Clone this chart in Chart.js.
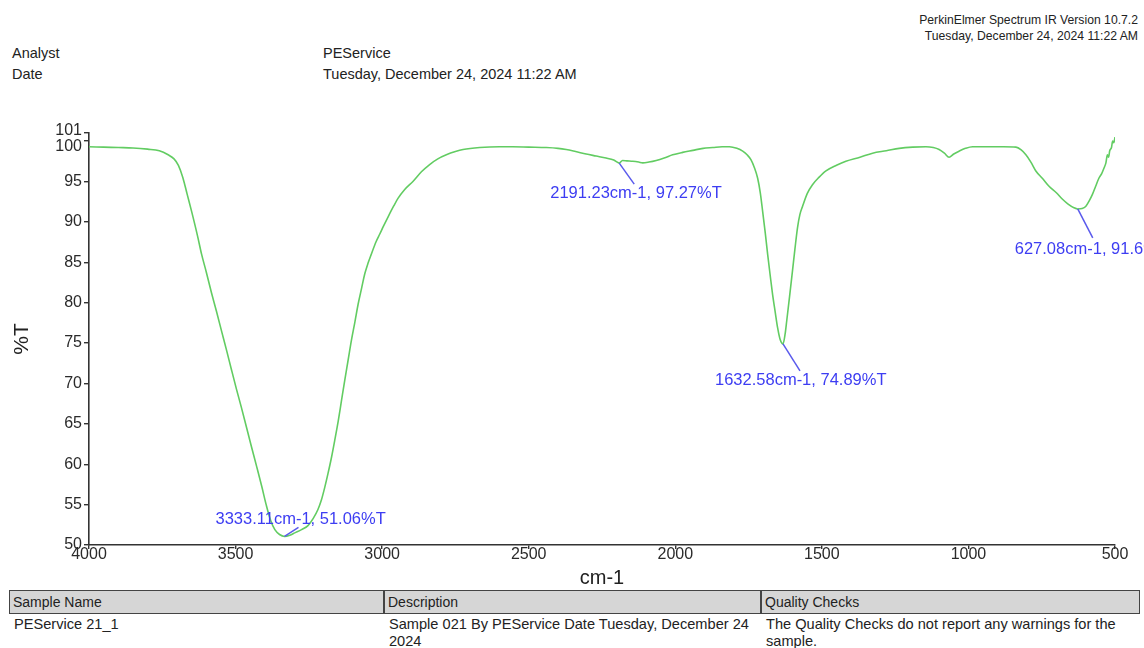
<!DOCTYPE html>
<html>
<head>
<meta charset="utf-8">
<script src="https://cdn.jsdelivr.net/npm/chart.js@4.4.1/dist/chart.umd.min.js"></script>
<style>
  html, body { margin: 0; padding: 0; background: #fff; }
  body { width: 1144px; height: 648px; position: relative; overflow: hidden;
         font-family: "Liberation Sans", Arial, sans-serif; color: #222; }
  #wrap { position: absolute; left: 0; top: 0; width: 1144px; height: 590px; }
  .t { position: absolute; white-space: nowrap; line-height: 1; }
  .hdr { font-size: 14.5px; }
  .ver { font-size: 12.2px; right: 6px; text-align: right; }
  .cell { position: absolute; top: 590px; height: 24px; background: #d6d6d6;
          border: 1.5px solid #444; box-sizing: border-box; font-size: 14px;
          line-height: 22px; padding-left: 3px; color: #222; }
  .row { position: absolute; top: 616px; font-size: 14.6px; line-height: 17px; color: #222; }
</style>
</head>
<body>
<div class="t ver" style="top:14px;">PerkinElmer Spectrum IR Version 10.7.2</div>
<div class="t ver" style="top:30px;">Tuesday, December 24, 2024 11:22 AM</div>
<div class="t hdr" style="left:12px; top:46px;">Analyst</div>
<div class="t hdr" style="left:12px; top:67px;">Date</div>
<div class="t hdr" style="left:323px; top:46px;">PEService</div>
<div class="t hdr" style="left:323px; top:67px;">Tuesday, December 24, 2024 11:22 AM</div>

<div id="wrap"><canvas id="c" width="1144" height="590"></canvas></div>

<div class="cell" style="left:9px; width:375px;">Sample Name</div>
<div class="cell" style="left:384px; width:377px;">Description</div>
<div class="cell" style="left:761px; width:379px;">Quality Checks</div>
<div class="row" style="left:14px;">PEService 21_1</div>
<div class="row" style="left:389px;">Sample 021 By PEService Date Tuesday, December 24<br>2024</div>
<div class="row" style="left:766px;">The Quality Checks do not report any warnings for the<br>sample.</div>

<script>
// Spectrum: wavenumber (cm-1) and transmittance (%T)
const wavenumbers = [
  4000, 3950, 3900, 3850, 3800, 3760, 3730, 3710, 3695, 3680, 3665, 3650, 3630, 3616, 3600,
  3582, 3565, 3548, 3530, 3514, 3497, 3480, 3463, 3446, 3428, 3411, 3395, 3380, 3366, 3350,
  3333.11, 3315, 3298, 3275, 3253, 3235, 3219, 3207, 3196, 3185, 3173, 3162, 3150, 3139, 3128,
  3116, 3105, 3093, 3082, 3070, 3059, 3048, 3037, 3020, 3008, 2995, 2980, 2960, 2946, 2923,
  2895, 2866, 2838, 2810, 2781, 2750, 2724, 2667, 2600, 2554, 2500, 2440, 2400, 2372, 2340,
  2304, 2270, 2236, 2210, 2191.23, 2180, 2165, 2145, 2125, 2111, 2090, 2065, 2035, 2009, 1975,
  1940, 1905, 1872, 1840, 1815, 1790, 1770, 1755, 1742, 1730, 1719, 1710, 1702, 1693, 1685,
  1676, 1668, 1659, 1651, 1642, 1632.58, 1625, 1620, 1610, 1600, 1592, 1583, 1575, 1566, 1550,
  1532, 1510, 1486, 1450, 1418, 1370, 1327, 1280, 1236, 1190, 1145, 1120, 1100, 1082, 1066,
  1050, 1032, 1010, 986, 950, 918, 880, 838, 820, 804, 787, 770, 748, 725, 700,
  679, 660, 640, 627.08, 612, 600, 588, 577, 566, 555, 545, 537, 531, 526, 522,
  518, 512, 508, 504, 500
];
const transmittance = [
  99.3, 99.25, 99.2, 99.15, 99.0, 98.8, 98.3, 97.8, 97.0, 95.5, 93.4, 91.3, 88.3, 86.0, 83.8,
  81.2, 78.9, 76.5, 74.0, 71.7, 69.3, 67.0, 64.6, 62.2, 59.7, 57.3, 54.9, 53.0, 51.9, 51.3,
  51.06, 51.2, 51.5, 51.9, 52.4, 53.3, 54.4, 55.6, 57.1, 58.8, 60.8, 62.9, 65.3, 67.8, 70.3,
  72.9, 75.3, 77.6, 79.8, 81.8, 83.6, 84.9, 86.0, 87.6, 88.5, 89.5, 90.6, 92.0, 92.9, 94.0,
  95.0, 96.2, 97.1, 97.8, 98.3, 98.7, 98.95, 99.2, 99.3, 99.3, 99.25, 99.2, 99.1, 98.95, 98.7,
  98.4, 98.15, 97.9, 97.65, 97.27, 97.6, 97.55, 97.5, 97.4, 97.3, 97.4, 97.6, 97.95, 98.3, 98.6,
  98.85, 99.1, 99.2, 99.3, 99.3, 99.1, 98.75, 98.3, 97.7, 96.7, 95.4, 93.6, 91.3, 88.6, 86.0,
  83.3, 81.0, 78.8, 76.9, 75.4, 74.89, 76.2, 77.7, 80.8, 84.0, 86.6, 89.3, 90.9, 91.9, 93.5,
  94.6, 95.5, 96.3, 97.0, 97.5, 98.0, 98.5, 98.8, 99.1, 99.25, 99.3, 99.2, 98.95, 98.5, 98.0,
  98.4, 98.75, 99.1, 99.3, 99.3, 99.3, 99.3, 99.25, 98.9, 98.3, 97.4, 96.3, 95.4, 94.4, 93.6,
  92.8, 92.2, 91.75, 91.6, 91.65, 91.9, 92.6, 93.4, 94.4, 95.4, 96.0, 96.7, 97.3, 98.3, 98.0,
  98.8, 99.2, 100.0, 99.8, 100.5
];

// Labelled peaks
const peakWavenumbers = [3333.11, 2191.23, 1632.58, 627.08];
const peakTransmittance = [51.06, 97.27, 74.89, 91.6];

// Axis ticks
const xTickValues = [4000, 3500, 3000, 2500, 2000, 1500, 1000, 500];
const yTickValues = [50, 55, 60, 65, 70, 75, 80, 85, 90, 95, 100, 101];

const FONT = '"Liberation Sans", Arial, sans-serif';
const AXIS = '#333';

// leader-line end and label anchor, relative to each peak
const peakLabelStyle = [
  { lx: 14, ly: -9, tx: -69, ty: -17 },
  { lx: 15, ly: 21, tx: -69, ty: 30 },
  { lx: 17, ly: 27, tx: -68, ty: 37 },
  { lx: 15, ly: 29, tx: -63, ty: 41 }
];

const peakLabels = {
  id: 'peakLabels',
  afterDatasetsDraw(chart) {
    const { ctx, scales: { x, y } } = chart;
    ctx.save();
    ctx.font = '16.5px ' + FONT;
    ctx.textBaseline = 'middle';
    ctx.textAlign = 'left';
    peakWavenumbers.forEach((wn, i) => {
      const px = x.getPixelForValue(wn);
      const py = y.getPixelForValue(peakTransmittance[i]);
      const s = peakLabelStyle[i];
      ctx.strokeStyle = '#5a5aec';
      ctx.lineWidth = 1.5;
      ctx.beginPath();
      ctx.moveTo(px, py);
      ctx.lineTo(px + s.lx, py + s.ly);
      ctx.stroke();
      ctx.fillStyle = '#3d3df2';
      ctx.fillText(wn.toFixed(2) + 'cm-1, ' + peakTransmittance[i] + '%T', px + s.tx, py + s.ty);
    });
    ctx.restore();
  }
};

new Chart(document.getElementById('c'), {
  type: 'line',
  data: {
    datasets: [{
      data: wavenumbers.map((w, i) => ({ x: w, y: transmittance[i] })),
      borderColor: '#62cc62',
      borderWidth: 1.6,
      pointRadius: 0,
      cubicInterpolationMode: 'monotone',
      fill: false
    }]
  },
  options: {
    responsive: false,
    animation: false,
    devicePixelRatio: 1,
    layout: { padding: { left: 10, top: 133, right: 29, bottom: 0 } },
    plugins: { legend: { display: false }, tooltip: { enabled: false } },
    scales: {
      x: {
        type: 'linear',
        reverse: true,
        min: 500,
        max: 4000,
        afterBuildTicks: (s) => { s.ticks = xTickValues.map(v => ({ value: v })); },
        afterFit: (s) => { s.height = 45; },
        border: { display: true, color: AXIS, width: 1.6 },
        grid: { display: true, drawOnChartArea: false, color: AXIS, tickLength: 4, lineWidth: 1.4 },
        ticks: { autoSkip: false, maxRotation: 0, padding: -4, color: '#2a2a2a',
                 callback: (v) => String(v),
                 font: { family: FONT, size: 16 } },
        title: { display: true, text: 'cm-1', color: '#222', padding: 0,
                 font: { family: FONT, size: 20 } }
      },
      y: {
        type: 'linear',
        min: 50,
        max: 101,
        afterBuildTicks: (s) => { s.ticks = yTickValues.map(v => ({ value: v })); },
        afterFit: (s) => { s.width = 79; },
        border: { display: true, color: AXIS, width: 1.6 },
        grid: { display: true, drawOnChartArea: false, color: AXIS, tickLength: 5, lineWidth: 1.4 },
        ticks: {
          autoSkip: false,
          padding: 2,
          color: '#2a2a2a',
          callback: (v) => v === 100 ? ['', '100'] : (v === 101 ? ['101', ''] : String(v)),
          font: (c) => {
            const v = c.tick ? c.tick.value : 0;
            if (v === 100) return { family: FONT, size: 16, lineHeight: 0.75 };
            if (v === 101) return { family: FONT, size: 16, lineHeight: 0.35 };
            return { family: FONT, size: 16, lineHeight: 1.2 };
          }
        },
        title: { display: true, text: '%T', color: '#222', padding: 0,
                 font: { family: FONT, size: 21 } }
      }
    }
  },
  plugins: [peakLabels]
});
</script>
</body>
</html>
